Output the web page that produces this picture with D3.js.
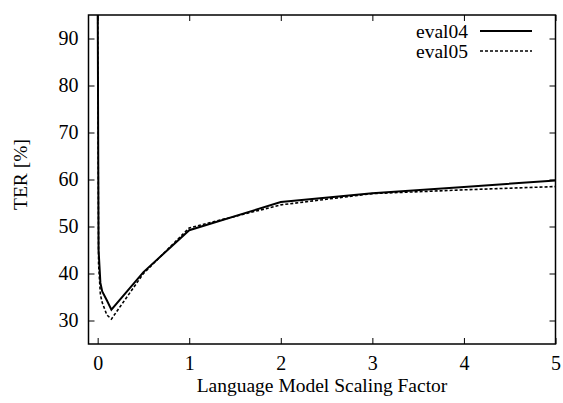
<!DOCTYPE html>
<html>
<head>
<meta charset="utf-8">
<script src="https://cdn.jsdelivr.net/npm/d3@7"></script>
<style>
  html, body { margin: 0; padding: 0; background: #fff; }
  svg { display: block; }
  svg text { font-family: "Liberation Serif", "Times New Roman", serif !important; fill: #000; }
</style>
</head>
<body>
<div id="chart"></div>
<script>
// LM scaling factor sweep and TER for each evaluation set
const scaleFactors04 = [0, 0.01, 0.03, 0.05, 0.1, 0.15, 0.5, 1, 2, 3, 4, 5];
const terEval04      = [100, 45, 38, 36.2, 34.3, 32.3, 40.3, 49.2, 55.2, 57.1, 58.4, 59.8];
const scaleFactors05 = [0, 0.01, 0.03, 0.05, 0.1, 0.15, 0.5, 1, 2, 3, 4, 5];
const terEval05      = [100, 42, 35.5, 33.8, 31.2, 30.3, 40.0, 49.7, 54.6, 57.0, 57.8, 58.5];
const seriesNames = ["eval04", "eval05"];
const xTicks = [0, 1, 2, 3, 4, 5];
const yTicks = [30, 40, 50, 60, 70, 80, 90];

const W = 563, H = 403;
const margin = { left: 88.5, right: 7.5, top: 15, bottom: 59 };

const svg = d3.select("#chart").append("svg")
  .attr("width", W).attr("height", H);

const x = d3.scaleLinear().domain([-0.1, 5]).range([margin.left, W - margin.right]);
const y = d3.scaleLinear().domain([25, 95]).range([H - margin.bottom, margin.top]);

const x0 = margin.left, x1 = W - margin.right, y0 = H - margin.bottom, y1 = margin.top;
const tickLen = 6;

svg.append("clipPath").attr("id", "plotclip")
  .append("rect").attr("x", x0).attr("y", y1).attr("width", x1 - x0).attr("height", y0 - y1);

// Series lines
const series = [
  { name: seriesNames[0], xs: scaleFactors04, ys: terEval04, dash: null, width: 2 },
  { name: seriesNames[1], xs: scaleFactors05, ys: terEval05, dash: "3,2", width: 1.6 }
];
const line = d3.line().x(d => x(d[0])).y(d => y(d[1]));
const lineG = svg.append("g").attr("clip-path", "url(#plotclip)");
series.forEach(s => {
  lineG.append("path")
    .datum(s.xs.map((v, i) => [v, s.ys[i]]))
    .attr("d", line)
    .attr("fill", "none")
    .attr("stroke", "#000")
    .attr("stroke-width", s.width)
    .attr("stroke-dasharray", s.dash)
    .attr("stroke-linejoin", "miter");
});

// Axes with inward ticks, mirrored on top and right
const fontSize = 20;
const serif = "'Liberation Serif', 'Times New Roman', serif";
const bottomAxis = d3.axisBottom(x).tickValues(xTicks).tickSize(-tickLen).tickPadding(12).tickFormat(d3.format("d"));
const topAxis = d3.axisTop(x).tickValues(xTicks).tickSize(-tickLen).tickFormat("");
const leftAxis = d3.axisLeft(y).tickValues(yTicks).tickSize(-tickLen).tickPadding(10).tickFormat(d3.format("d"));
const rightAxis = d3.axisRight(y).tickValues(yTicks).tickSize(-tickLen).tickFormat("");

function styleAxis(g) {
  g.attr("font-family", serif).attr("font-size", fontSize);
  g.select(".domain").remove();
  g.selectAll(".tick line").attr("stroke", "#000").attr("stroke-width", 1);
  g.selectAll(".tick text").attr("fill", "#000");
}
svg.append("g").attr("transform", `translate(0,${y0})`).call(bottomAxis).call(styleAxis);
svg.append("g").attr("transform", `translate(0,${y1})`).call(topAxis).call(styleAxis);
svg.append("g").attr("transform", `translate(${x0},0)`).call(leftAxis).call(styleAxis);
svg.append("g").attr("transform", `translate(${x1},0)`).call(rightAxis).call(styleAxis);

// Frame
svg.append("rect")
  .attr("x", x0).attr("y", y1).attr("width", x1 - x0).attr("height", y0 - y1)
  .attr("fill", "none").attr("stroke", "#000").attr("stroke-width", 1.5);

// Axis titles
svg.append("text")
  .attr("x", (x0 + x1) / 2).attr("y", 392)
  .attr("text-anchor", "middle")
  .attr("font-family", serif)
  .attr("font-size", 19.5)
  .text("Language Model Scaling Factor");

svg.append("text")
  .attr("transform", `translate(27,${(y0 + y1) / 2 - 5}) rotate(-90)`)
  .attr("text-anchor", "middle")
  .attr("font-family", serif)
  .attr("font-size", 19.5)
  .text("TER [%]");

// Legend
const legend = svg.append("g");
series.forEach((s, i) => {
  const ly = 31 + i * 20;
  legend.append("text")
    .attr("x", 468).attr("y", ly + 6.5)
    .attr("text-anchor", "end")
    .attr("font-family", serif)
    .attr("font-size", 19.5)
    .text(s.name);
  legend.append("line")
    .attr("x1", 480).attr("x2", 532).attr("y1", ly).attr("y2", ly)
    .attr("stroke", "#000").attr("stroke-width", s.width)
    .attr("stroke-dasharray", s.dash);
});
</script>
</body>
</html>
